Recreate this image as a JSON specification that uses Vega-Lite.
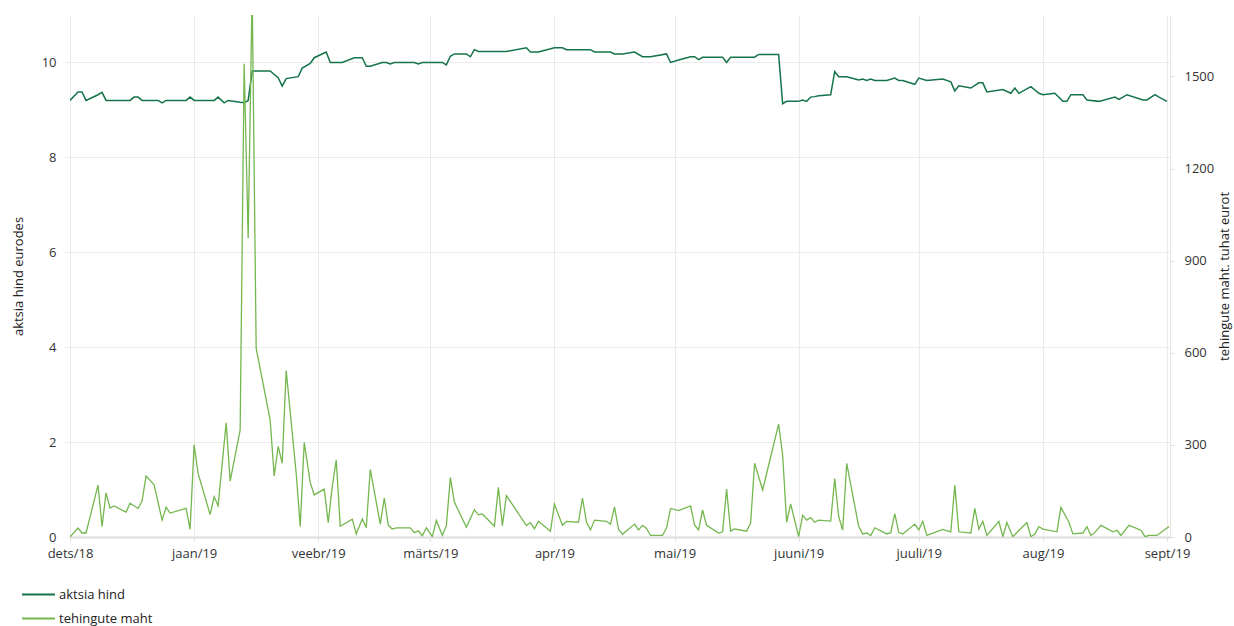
{
  "$schema": "https://vega.github.io/schema/vega-lite/v6.json",
  "width": 1100,
  "height": 522,
  "autosize": {"type": "none"},
  "padding": {"left": 70, "top": 15, "right": 64, "bottom": 89},
  "background": "white",
  "config": {
    "font": "Open Sans",
    "view": {"stroke": null},
    "axis": {
      "labelFont": "Open Sans", "titleFont": "Open Sans",
      "labelFontSize": 13, "titleFontSize": 13, "titleFontWeight": "normal",
      "labelColor": "#333333", "titleColor": "#222222",
      "gridColor": "#ebebeb", "tickColor": "#e3e3e3", "domainColor": "#e3e3e3"
    },
    "legend": {
      "orient": "none", "legendX": -41, "legendY": 570,
      "symbolType": "M-2,0H2", "symbolSize": 272, "symbolStrokeWidth": 1.8,
      "labelFont": "Open Sans", "labelFontSize": 13, "labelColor": "#222222",
      "labelOffset": 11, "rowPadding": 7, "padding": 0, "direction": "vertical"
    }
  },
  "datasets": {
    "price": [
      {"d": "2018-12-01T00:00", "v": 9.20}, {"d": "2018-12-03T00:00", "v": 9.38}, {"d": "2018-12-04T00:00", "v": 9.38},
      {"d": "2018-12-05T00:00", "v": 9.20}, {"d": "2018-12-08T00:00", "v": 9.32}, {"d": "2018-12-09T00:00", "v": 9.37},
      {"d": "2018-12-10T00:00", "v": 9.20}, {"d": "2018-12-16T00:00", "v": 9.20}, {"d": "2018-12-17T00:00", "v": 9.27},
      {"d": "2018-12-18T00:00", "v": 9.27}, {"d": "2018-12-19T00:00", "v": 9.20}, {"d": "2018-12-23T00:00", "v": 9.20},
      {"d": "2018-12-24T00:00", "v": 9.15}, {"d": "2018-12-25T00:00", "v": 9.20}, {"d": "2018-12-30T00:00", "v": 9.20},
      {"d": "2018-12-31T00:00", "v": 9.27}, {"d": "2019-01-01T00:00", "v": 9.20}, {"d": "2019-01-06T00:00", "v": 9.20},
      {"d": "2019-01-07T00:00", "v": 9.27}, {"d": "2019-01-08T12:00", "v": 9.15}, {"d": "2019-01-09T12:00", "v": 9.20},
      {"d": "2019-01-12T12:00", "v": 9.16}, {"d": "2019-01-13T12:00", "v": 9.15}, {"d": "2019-01-14T12:00", "v": 9.20},
      {"d": "2019-01-15T12:00", "v": 9.82}, {"d": "2019-01-20T00:00", "v": 9.82}, {"d": "2019-01-22T00:00", "v": 9.68},
      {"d": "2019-01-23T00:00", "v": 9.50}, {"d": "2019-01-24T00:00", "v": 9.66}, {"d": "2019-01-27T00:00", "v": 9.70},
      {"d": "2019-01-28T00:00", "v": 9.88}, {"d": "2019-01-30T00:00", "v": 9.98}, {"d": "2019-01-31T00:00", "v": 10.10},
      {"d": "2019-02-03T00:00", "v": 10.22}, {"d": "2019-02-04T00:00", "v": 10.00}, {"d": "2019-02-07T00:00", "v": 10.00},
      {"d": "2019-02-10T00:00", "v": 10.10}, {"d": "2019-02-12T00:00", "v": 10.10}, {"d": "2019-02-13T00:00", "v": 9.92},
      {"d": "2019-02-14T00:00", "v": 9.92}, {"d": "2019-02-17T00:00", "v": 10.00}, {"d": "2019-02-18T00:00", "v": 10.00},
      {"d": "2019-02-19T00:00", "v": 9.97}, {"d": "2019-02-20T00:00", "v": 10.00}, {"d": "2019-02-25T00:00", "v": 10.00},
      {"d": "2019-02-26T00:00", "v": 9.97}, {"d": "2019-02-27T00:00", "v": 10.00}, {"d": "2019-03-04T00:00", "v": 10.00},
      {"d": "2019-03-05T00:00", "v": 9.95}, {"d": "2019-03-06T00:00", "v": 10.13}, {"d": "2019-03-07T00:00", "v": 10.18},
      {"d": "2019-03-10T00:00", "v": 10.18}, {"d": "2019-03-11T00:00", "v": 10.12}, {"d": "2019-03-12T00:00", "v": 10.27},
      {"d": "2019-03-13T00:00", "v": 10.23}, {"d": "2019-03-20T00:00", "v": 10.23}, {"d": "2019-03-25T00:00", "v": 10.31},
      {"d": "2019-03-26T00:00", "v": 10.22}, {"d": "2019-03-28T00:00", "v": 10.22}, {"d": "2019-04-01T00:00", "v": 10.31},
      {"d": "2019-04-03T00:00", "v": 10.31}, {"d": "2019-04-04T00:00", "v": 10.27}, {"d": "2019-04-10T00:00", "v": 10.27},
      {"d": "2019-04-11T00:00", "v": 10.22}, {"d": "2019-04-15T00:00", "v": 10.22}, {"d": "2019-04-16T00:00", "v": 10.18},
      {"d": "2019-04-18T00:00", "v": 10.18}, {"d": "2019-04-21T00:00", "v": 10.22}, {"d": "2019-04-23T00:00", "v": 10.12},
      {"d": "2019-04-25T00:00", "v": 10.12}, {"d": "2019-04-29T00:00", "v": 10.18}, {"d": "2019-04-30T00:00", "v": 10.00},
      {"d": "2019-05-02T00:00", "v": 10.05}, {"d": "2019-05-05T00:00", "v": 10.12}, {"d": "2019-05-06T00:00", "v": 10.12},
      {"d": "2019-05-07T00:00", "v": 10.06}, {"d": "2019-05-08T00:00", "v": 10.11}, {"d": "2019-05-13T00:00", "v": 10.11},
      {"d": "2019-05-14T00:00", "v": 10.00}, {"d": "2019-05-15T00:00", "v": 10.11}, {"d": "2019-05-21T00:00", "v": 10.11},
      {"d": "2019-05-22T00:00", "v": 10.17}, {"d": "2019-05-27T00:00", "v": 10.17}, {"d": "2019-05-28T00:00", "v": 9.13},
      {"d": "2019-05-29T00:00", "v": 9.18}, {"d": "2019-06-01T00:00", "v": 9.18}, {"d": "2019-06-02T00:00", "v": 9.21},
      {"d": "2019-06-03T00:00", "v": 9.18}, {"d": "2019-06-04T00:00", "v": 9.27}, {"d": "2019-06-05T00:00", "v": 9.28},
      {"d": "2019-06-06T00:00", "v": 9.30}, {"d": "2019-06-09T00:00", "v": 9.32}, {"d": "2019-06-10T00:00", "v": 9.81},
      {"d": "2019-06-11T00:00", "v": 9.70}, {"d": "2019-06-13T00:00", "v": 9.70}, {"d": "2019-06-16T00:00", "v": 9.63},
      {"d": "2019-06-17T00:00", "v": 9.65}, {"d": "2019-06-18T00:00", "v": 9.62}, {"d": "2019-06-19T00:00", "v": 9.65},
      {"d": "2019-06-20T00:00", "v": 9.62}, {"d": "2019-06-23T00:00", "v": 9.62}, {"d": "2019-06-25T00:00", "v": 9.67},
      {"d": "2019-06-26T00:00", "v": 9.62}, {"d": "2019-06-27T00:00", "v": 9.62}, {"d": "2019-06-30T00:00", "v": 9.54},
      {"d": "2019-07-01T00:00", "v": 9.67}, {"d": "2019-07-03T00:00", "v": 9.62}, {"d": "2019-07-07T00:00", "v": 9.65},
      {"d": "2019-07-09T00:00", "v": 9.59}, {"d": "2019-07-10T00:00", "v": 9.40}, {"d": "2019-07-11T00:00", "v": 9.51},
      {"d": "2019-07-14T00:00", "v": 9.46}, {"d": "2019-07-16T00:00", "v": 9.57}, {"d": "2019-07-17T00:00", "v": 9.57},
      {"d": "2019-07-18T00:00", "v": 9.38}, {"d": "2019-07-22T00:00", "v": 9.43}, {"d": "2019-07-24T00:00", "v": 9.35},
      {"d": "2019-07-25T00:00", "v": 9.46}, {"d": "2019-07-26T00:00", "v": 9.35}, {"d": "2019-07-29T00:00", "v": 9.49},
      {"d": "2019-07-31T00:00", "v": 9.35}, {"d": "2019-08-01T00:00", "v": 9.32}, {"d": "2019-08-04T00:00", "v": 9.35},
      {"d": "2019-08-06T00:00", "v": 9.18}, {"d": "2019-08-07T00:00", "v": 9.18}, {"d": "2019-08-08T00:00", "v": 9.32},
      {"d": "2019-08-11T00:00", "v": 9.32}, {"d": "2019-08-12T00:00", "v": 9.21}, {"d": "2019-08-15T00:00", "v": 9.18},
      {"d": "2019-08-19T00:00", "v": 9.27}, {"d": "2019-08-20T00:00", "v": 9.22}, {"d": "2019-08-21T00:00", "v": 9.27},
      {"d": "2019-08-22T00:00", "v": 9.32}, {"d": "2019-08-26T00:00", "v": 9.21}, {"d": "2019-08-27T00:00", "v": 9.21},
      {"d": "2019-08-29T00:00", "v": 9.32}, {"d": "2019-08-30T00:00", "v": 9.27}, {"d": "2019-09-01T00:00", "v": 9.18}
    ],
    "volume": [
      {"d": "2018-12-01T00:00", "v": 0}, {"d": "2018-12-03T00:00", "v": 29}, {"d": "2018-12-04T00:00", "v": 13},
      {"d": "2018-12-05T00:00", "v": 13}, {"d": "2018-12-08T00:00", "v": 169}, {"d": "2018-12-09T00:00", "v": 34},
      {"d": "2018-12-10T00:00", "v": 144}, {"d": "2018-12-11T00:00", "v": 94}, {"d": "2018-12-12T00:00", "v": 101},
      {"d": "2018-12-15T00:00", "v": 81}, {"d": "2018-12-16T00:00", "v": 110}, {"d": "2018-12-18T00:00", "v": 93},
      {"d": "2018-12-19T00:00", "v": 117}, {"d": "2018-12-20T00:00", "v": 199}, {"d": "2018-12-22T00:00", "v": 170},
      {"d": "2018-12-24T00:00", "v": 55}, {"d": "2018-12-25T00:00", "v": 97}, {"d": "2018-12-26T00:00", "v": 78},
      {"d": "2018-12-30T00:00", "v": 93}, {"d": "2018-12-31T00:00", "v": 25}, {"d": "2019-01-01T00:00", "v": 300},
      {"d": "2019-01-02T00:00", "v": 207}, {"d": "2019-01-05T00:00", "v": 73}, {"d": "2019-01-06T00:00", "v": 131},
      {"d": "2019-01-07T00:00", "v": 102}, {"d": "2019-01-09T00:00", "v": 372}, {"d": "2019-01-10T00:00", "v": 182},
      {"d": "2019-01-12T12:00", "v": 349}, {"d": "2019-01-13T12:00", "v": 1541}, {"d": "2019-01-14T12:00", "v": 973},
      {"d": "2019-01-15T12:00", "v": 1780}, {"d": "2019-01-16T12:00", "v": 615}, {"d": "2019-01-20T00:00", "v": 381},
      {"d": "2019-01-21T00:00", "v": 199}, {"d": "2019-01-22T00:00", "v": 295}, {"d": "2019-01-23T00:00", "v": 240},
      {"d": "2019-01-24T00:00", "v": 542}, {"d": "2019-01-26T12:00", "v": 207}, {"d": "2019-01-27T12:00", "v": 34},
      {"d": "2019-01-28T12:00", "v": 308}, {"d": "2019-01-30T00:00", "v": 178}, {"d": "2019-01-31T00:00", "v": 137},
      {"d": "2019-02-02T12:00", "v": 156}, {"d": "2019-02-03T12:00", "v": 47}, {"d": "2019-02-04T12:00", "v": 164},
      {"d": "2019-02-05T12:00", "v": 251}, {"d": "2019-02-06T12:00", "v": 35}, {"d": "2019-02-09T12:00", "v": 58},
      {"d": "2019-02-10T12:00", "v": 10}, {"d": "2019-02-12T00:00", "v": 59}, {"d": "2019-02-13T00:00", "v": 30},
      {"d": "2019-02-14T00:00", "v": 220}, {"d": "2019-02-16T12:00", "v": 42}, {"d": "2019-02-17T12:00", "v": 127},
      {"d": "2019-02-18T12:00", "v": 38}, {"d": "2019-02-19T12:00", "v": 26}, {"d": "2019-02-20T12:00", "v": 30},
      {"d": "2019-02-24T00:00", "v": 30}, {"d": "2019-02-25T00:00", "v": 14}, {"d": "2019-02-26T00:00", "v": 20},
      {"d": "2019-02-27T00:00", "v": 4}, {"d": "2019-02-28T00:00", "v": 30}, {"d": "2019-03-01T12:00", "v": 1},
      {"d": "2019-03-02T12:00", "v": 54}, {"d": "2019-03-04T00:00", "v": 5}, {"d": "2019-03-05T00:00", "v": 37},
      {"d": "2019-03-06T00:00", "v": 194}, {"d": "2019-03-07T00:00", "v": 114}, {"d": "2019-03-10T00:00", "v": 32},
      {"d": "2019-03-12T00:00", "v": 89}, {"d": "2019-03-13T00:00", "v": 72}, {"d": "2019-03-14T00:00", "v": 75},
      {"d": "2019-03-17T00:00", "v": 35}, {"d": "2019-03-18T00:00", "v": 162}, {"d": "2019-03-19T00:00", "v": 37},
      {"d": "2019-03-20T00:00", "v": 135}, {"d": "2019-03-25T00:00", "v": 37}, {"d": "2019-03-26T00:00", "v": 47},
      {"d": "2019-03-27T00:00", "v": 27}, {"d": "2019-03-28T00:00", "v": 51}, {"d": "2019-03-31T00:00", "v": 19},
      {"d": "2019-04-01T00:00", "v": 107}, {"d": "2019-04-03T00:00", "v": 38}, {"d": "2019-04-04T00:00", "v": 51},
      {"d": "2019-04-07T00:00", "v": 48}, {"d": "2019-04-08T00:00", "v": 127}, {"d": "2019-04-09T00:00", "v": 49},
      {"d": "2019-04-10T00:00", "v": 23}, {"d": "2019-04-11T00:00", "v": 55}, {"d": "2019-04-14T00:00", "v": 51},
      {"d": "2019-04-15T00:00", "v": 42}, {"d": "2019-04-16T00:00", "v": 98}, {"d": "2019-04-17T00:00", "v": 25},
      {"d": "2019-04-18T00:00", "v": 9}, {"d": "2019-04-21T00:00", "v": 42}, {"d": "2019-04-22T00:00", "v": 23},
      {"d": "2019-04-23T00:00", "v": 38}, {"d": "2019-04-24T00:00", "v": 28}, {"d": "2019-04-25T00:00", "v": 5},
      {"d": "2019-04-28T00:00", "v": 5}, {"d": "2019-04-29T00:00", "v": 29}, {"d": "2019-04-30T00:00", "v": 93},
      {"d": "2019-05-02T00:00", "v": 86}, {"d": "2019-05-05T00:00", "v": 101}, {"d": "2019-05-06T00:00", "v": 39},
      {"d": "2019-05-07T00:00", "v": 23}, {"d": "2019-05-08T00:00", "v": 88}, {"d": "2019-05-09T00:00", "v": 38},
      {"d": "2019-05-12T00:00", "v": 13}, {"d": "2019-05-13T00:00", "v": 17}, {"d": "2019-05-14T00:00", "v": 156},
      {"d": "2019-05-15T00:00", "v": 19}, {"d": "2019-05-16T00:00", "v": 26}, {"d": "2019-05-19T00:00", "v": 19},
      {"d": "2019-05-20T00:00", "v": 45}, {"d": "2019-05-21T00:00", "v": 240}, {"d": "2019-05-23T00:00", "v": 153},
      {"d": "2019-05-27T00:00", "v": 368}, {"d": "2019-05-28T00:00", "v": 267}, {"d": "2019-05-29T00:00", "v": 48},
      {"d": "2019-05-30T00:00", "v": 108}, {"d": "2019-06-01T00:00", "v": 1}, {"d": "2019-06-02T00:00", "v": 71},
      {"d": "2019-06-03T00:00", "v": 55}, {"d": "2019-06-04T00:00", "v": 63}, {"d": "2019-06-05T00:00", "v": 48},
      {"d": "2019-06-06T00:00", "v": 55}, {"d": "2019-06-09T00:00", "v": 52}, {"d": "2019-06-10T00:00", "v": 190},
      {"d": "2019-06-11T00:00", "v": 66}, {"d": "2019-06-12T00:00", "v": 23}, {"d": "2019-06-13T00:00", "v": 240},
      {"d": "2019-06-16T00:00", "v": 34}, {"d": "2019-06-17T00:00", "v": 10}, {"d": "2019-06-18T00:00", "v": 13},
      {"d": "2019-06-19T00:00", "v": 5}, {"d": "2019-06-20T00:00", "v": 30}, {"d": "2019-06-23T00:00", "v": 10},
      {"d": "2019-06-24T00:00", "v": 14}, {"d": "2019-06-25T00:00", "v": 76}, {"d": "2019-06-26T00:00", "v": 15},
      {"d": "2019-06-27T00:00", "v": 10}, {"d": "2019-06-30T00:00", "v": 42}, {"d": "2019-07-01T00:00", "v": 23},
      {"d": "2019-07-02T00:00", "v": 51}, {"d": "2019-07-03T00:00", "v": 5}, {"d": "2019-07-07T00:00", "v": 25},
      {"d": "2019-07-09T00:00", "v": 17}, {"d": "2019-07-10T00:00", "v": 168}, {"d": "2019-07-11T00:00", "v": 17},
      {"d": "2019-07-14T00:00", "v": 13}, {"d": "2019-07-15T00:00", "v": 93}, {"d": "2019-07-16T00:00", "v": 26},
      {"d": "2019-07-17T00:00", "v": 51}, {"d": "2019-07-18T00:00", "v": 5}, {"d": "2019-07-21T00:00", "v": 51},
      {"d": "2019-07-22T00:00", "v": 1}, {"d": "2019-07-23T00:00", "v": 47}, {"d": "2019-07-24T12:00", "v": 1},
      {"d": "2019-07-28T00:00", "v": 47}, {"d": "2019-07-29T00:00", "v": 1}, {"d": "2019-07-30T00:00", "v": 10},
      {"d": "2019-07-31T00:00", "v": 34}, {"d": "2019-08-01T00:00", "v": 26}, {"d": "2019-08-04T12:00", "v": 17},
      {"d": "2019-08-05T12:00", "v": 97}, {"d": "2019-08-07T12:00", "v": 48}, {"d": "2019-08-08T12:00", "v": 10},
      {"d": "2019-08-11T00:00", "v": 13}, {"d": "2019-08-12T00:00", "v": 34}, {"d": "2019-08-13T00:00", "v": 5},
      {"d": "2019-08-14T00:00", "v": 15}, {"d": "2019-08-15T12:00", "v": 38}, {"d": "2019-08-18T12:00", "v": 17},
      {"d": "2019-08-19T12:00", "v": 22}, {"d": "2019-08-20T12:00", "v": 5}, {"d": "2019-08-22T12:00", "v": 38},
      {"d": "2019-08-25T12:00", "v": 22}, {"d": "2019-08-26T12:00", "v": 1}, {"d": "2019-08-27T12:00", "v": 5},
      {"d": "2019-08-29T12:00", "v": 5}, {"d": "2019-09-01T12:00", "v": 34}
    ]
  },
  "layer": [
    {
      "data": {"name": "price"},
      "mark": {"type": "line", "strokeWidth": 1.5, "clip": true},
      "encoding": {
        "x": {
          "field": "d", "type": "temporal",
          "scale": {"domain": [{"year": 2018, "month": 12, "date": 1}, {"year": 2019, "month": 9, "date": 1, "hours": 18}]},
          "axis": {
            "title": null,
            "tickCount": {"interval": "month", "step": 1},
            "labelExpr": "['jaan','veebr','märts','apr','mai','juuni','juuli','aug','sept','okt','nov','dets'][month(datum.value)] + '/' + timeFormat(datum.value, '%y')",
            "grid": true, "domainColor": "#dcdcdc", "domainWidth": 2,
            "tickSize": 4, "tickColor": "#dcdcdc", "labelPadding": 6,
            "labelFlush": false, "labelOverlap": false, "labelBound": false
          }
        },
        "y": {
          "field": "v", "type": "quantitative",
          "scale": {"domain": [0, 11], "nice": false, "zero": true},
          "axis": {
            "title": "aktsia hind eurodes", "values": [0, 2, 4, 6, 8, 10],
            "domain": false, "grid": true, "tickSize": 5, "tickColor": "#ebebeb",
            "labelPadding": 9, "titlePadding": 16
          }
        },
        "color": {
          "datum": "aktsia hind",
          "scale": {"domain": ["aktsia hind", "tehingute maht"], "range": ["#15734a", "#74b74f"]},
          "legend": {"title": null}
        }
      }
    },
    {
      "data": {"name": "volume"},
      "mark": {"type": "line", "strokeWidth": 1.3, "clip": true},
      "encoding": {
        "x": {"field": "d", "type": "temporal"},
        "y": {
          "field": "v", "type": "quantitative",
          "scale": {"domain": [0, 1700], "nice": false, "zero": true},
          "axis": {
            "orient": "right", "title": "tehingute maht. tuhat eurot",
            "values": [0, 300, 600, 900, 1200, 1500], "format": "d", "grid": false,
            "domain": true, "domainColor": "#e6e6e6", "tickSize": 4, "tickColor": "#dcdcdc",
            "labelPadding": 10, "titleAngle": 270, "titlePadding": 18
          }
        },
        "color": {"datum": "tehingute maht"}
      }
    }
  ],
  "resolve": {"scale": {"y": "independent"}}
}
